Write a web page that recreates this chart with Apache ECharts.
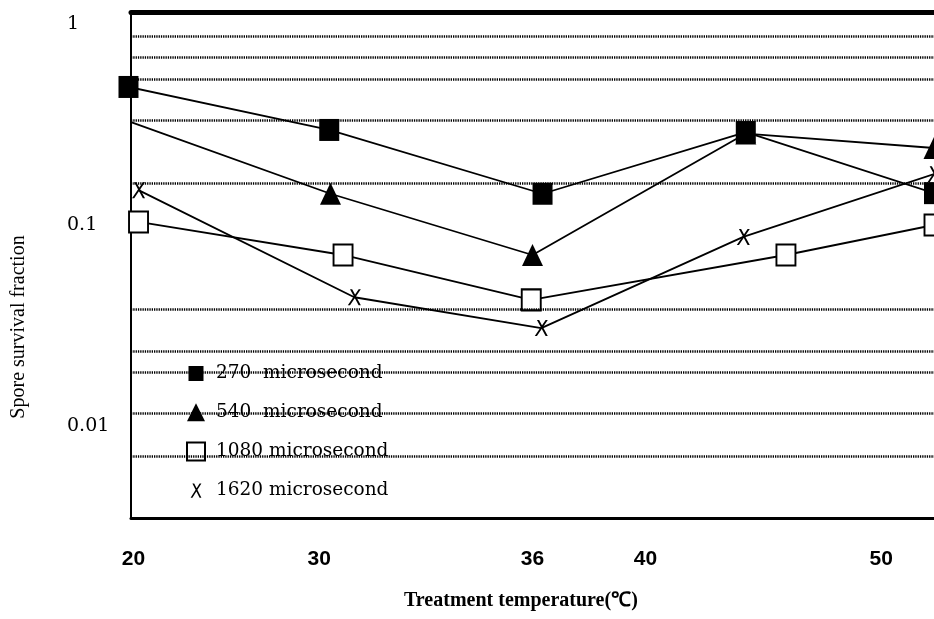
<!DOCTYPE html>
<html>
<head>
<meta charset="utf-8">
<script src="https://cdn.jsdelivr.net/npm/echarts@6/dist/echarts.min.js"></script>
<style>
html,body{margin:0;padding:0;background:#fff;}
#chart{width:934px;height:619px;}
</style>
</head>
<body>
<div id="chart"></div>
<script>
// ---- data ----
const seriesNames = ['270  microsecond', '540  microsecond', '1080 microsecond', '1620 microsecond'];
const x270 = [19.9, 27.9, 36.4, 44.5, 52];
const y270 = [0.486, 0.297, 0.143, 0.290, 0.144];
const x540 = [20, 27.95, 36, 44.5, 52];
const y540 = [0.325, 0.143, 0.0709, 0.285, 0.2415];
const x1080 = [20.3, 28.45, 35.95, 46.1, 52];
const y1080 = [0.1035, 0.0709, 0.0424, 0.0709, 0.1];
const x1620 = [20.3, 28.9, 36.35, 44.4, 52];
const y1620 = [0.149, 0.0437, 0.0307, 0.0872, 0.179];
const xTickLabels = ['20', '30', '36', '40', '50'];
const xTickAt = [20.1, 27.5, 36, 40.5, 49.9];
const yTickValues = [0.01, 0.1, 1];
const yTickLabels = ['0.01', '0.1', '1'];
const gridValues = [0.8716, 0.685, 0.5324, 0.333, 0.1618, 0.0382, 0.0236, 0.01857, 0.0116, 0.0071];

// ---- chart ----
const pair = (xs, ys) => xs.map((x, i) => [x, ys[i]]);
const SQ = 'path://M0,0H10V10H0Z';
const SQ_PAD = 'path://M-1,-1M11,11M0,0H10V10H0Z';
const TRI = 'path://M5,0L10,10H0Z';
const XM = 'path://M2,0H4L12,16H10Z M10,0H12L2,16H0Z';
const XM_PAD = 'path://M-1,-2M13,18M2,0H4L12,16H10Z M10,0H12L2,16H0Z';
const lineStyle = { color: '#000', width: 1.8 };

const chart = echarts.init(document.getElementById('chart'), null, { renderer: 'canvas' });
const option = {
  animation: false,
  backgroundColor: '#fff',
  grid: { left: 131, right: 0, top: 12, bottom: 101, containLabel: false },
  xAxis: [{
    type: 'value', min: 20, max: 52, position: 'bottom',
    axisLine: { show: true, onZero: false, lineStyle: { color: '#000', width: 3 } },
    axisTick: { show: false },
    splitLine: { show: false },
    axisLabel: {
      customValues: xTickAt,
      formatter: v => { const i = xTickAt.indexOf(v); return i >= 0 ? xTickLabels[i] : ''; },
      margin: 31, color: '#000', fontFamily: 'Liberation Sans', fontWeight: 'bold', fontSize: 21
    }
  }, {
    type: 'value', min: 20, max: 52, position: 'top',
    axisLine: { show: true, onZero: false, lineStyle: { color: '#000', width: 5 } },
    axisTick: { show: false }, axisLabel: { show: false }, splitLine: { show: false }
  }],
  yAxis: {
    type: 'log', logBase: 10, min: 0.003485, max: 1.147,
    axisLine: { show: true, lineStyle: { color: '#000', width: 2 } },
    axisTick: { show: false },
    splitLine: { show: false },
    minorTick: { show: false }, minorSplitLine: { show: false },
    axisLabel: {
      customValues: yTickValues,
      formatter: v => { let best = 0; yTickValues.forEach((t, i) => { if (Math.abs(Math.log10(t) - Math.log10(v)) < Math.abs(Math.log10(yTickValues[best]) - Math.log10(v))) best = i; }); return yTickLabels[best]; },
      align: 'left', margin: 64, color: '#000', fontFamily: 'DejaVu Serif', fontSize: 19
    }
  },
  legend: {
    orient: 'vertical', left: 181, top: 359,
    itemWidth: 30, itemHeight: 18, itemGap: 19.7,
    symbolKeepAspect: true,
    textStyle: { color: '#000', fontFamily: 'DejaVu Serif', fontSize: 18.5 },
    data: [
      { name: seriesNames[0], icon: SQ_PAD, itemStyle: { color: '#000', borderWidth: 0 } },
      { name: seriesNames[1], icon: TRI, itemStyle: { color: '#000', borderWidth: 0 } },
      { name: seriesNames[2], icon: SQ, itemStyle: { color: '#fff', borderColor: '#000', borderWidth: 2 } },
      { name: seriesNames[3], icon: XM_PAD, itemStyle: { color: '#000', borderWidth: 0 } }
    ]
  },
  series: [
    {
      name: seriesNames[0], type: 'line', z: 4, clip: false,
      data: pair(x270, y270), symbol: 'rect', symbolSize: [20, 22],
      itemStyle: { color: '#000' }, lineStyle: lineStyle,
      markLine: {
        silent: true, symbol: 'none', label: { show: false }, precision: 8,
        lineStyle: { color: '#000', width: 2.5, type: [1.3, 1] },
        data: gridValues.map(v => ({ yAxis: v }))
      }
    },
    {
      name: seriesNames[1], type: 'line', z: 3, clip: false,
      data: pair(x540, y540).map((p, i) => i === 0 ? { value: p, symbol: 'none' } : p),
      symbol: 'triangle', symbolSize: [21, 22],
      itemStyle: { color: '#000' }, lineStyle: lineStyle
    },
    {
      name: seriesNames[2], type: 'line', z: 3, clip: false,
      data: pair(x1080, y1080), symbol: 'rect', symbolSize: [19, 21],
      itemStyle: { color: '#fff', borderColor: '#000', borderWidth: 2 }, lineStyle: lineStyle
    },
    {
      name: seriesNames[3], type: 'line', z: 3, clip: false,
      data: pair(x1620, y1620), symbol: XM, symbolSize: [13, 16],
      itemStyle: { color: '#000' }, lineStyle: lineStyle
    }
  ],
  graphic: [
    {
      type: 'text', x: 19, y: 327, rotation: Math.PI / 2,
      style: { text: 'Spore survival fraction', fill: '#000', font: '20px "Liberation Serif"', textAlign: 'center', textVerticalAlign: 'middle' }
    },
    {
      type: 'text', x: 404, y: 601,
      style: { text: 'Treatment temperature(℃)', fill: '#000', font: 'bold 20px "Liberation Serif"', textAlign: 'left', textVerticalAlign: 'middle' }
    }
  ]
};
chart.setOption(option);
</script>
</body>
</html>
